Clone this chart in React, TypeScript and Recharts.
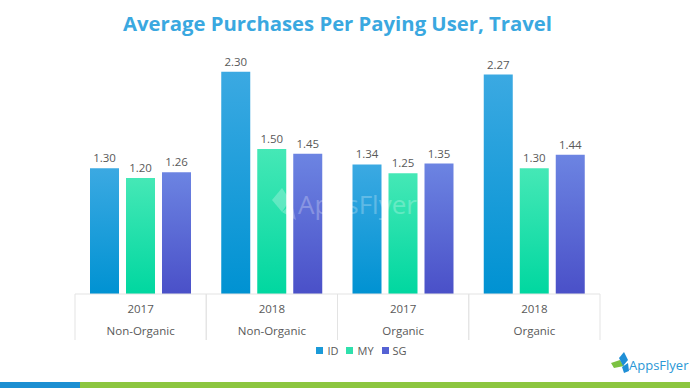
import React from 'react';
import { BarChart, Bar, XAxis, YAxis, Legend, LabelList } from 'recharts';

const years = ['2017', '2018', '2017', '2018'];
const types = ['Non-Organic', 'Non-Organic', 'Organic', 'Organic'];
const idValues = [1.3, 2.3, 1.34, 2.27];
const myValues = [1.2, 1.5, 1.25, 1.3];
const sgValues = [1.26, 1.45, 1.35, 1.44];

const data = years.map((y, i) => ({
  key: `${y}|${types[i]}`,
  year: y,
  type: types[i],
  ID: idValues[i],
  MY: myValues[i],
  SG: sgValues[i],
}));

const FONT = '"Open Sans", "Liberation Sans", sans-serif';

const CategoryTick = (props: any) => {
  const { x, y, payload } = props;
  const half = payload && payload.offset ? payload.offset : 65.6;
  const [yr, tp] = String(payload.value).split('|');
  return (
    <g>
      <line x1={x - half} x2={x - half} y1={y} y2={y + 46} stroke="#e3e3e3" strokeWidth={1} />
      <line x1={x + half} x2={x + half} y1={y} y2={y + 46} stroke="#e3e3e3" strokeWidth={1} />
      <text x={x} y={y + 19} textAnchor="middle" fontSize={11.5} fill="#595959" fontFamily={FONT}>{yr}</text>
      <text x={x} y={y + 41} textAnchor="middle" fontSize={11.5} fill="#595959" fontFamily={FONT}>{tp}</text>
    </g>
  );
};

const LegendContent = (props: any) => {
  const items = [
    { name: 'ID', color: '#1b9ad8' },
    { name: 'MY', color: '#2fe0ac' },
    { name: 'SG', color: '#5562d4' },
  ];
  return (
    <div style={{ display: 'flex', justifyContent: 'center', alignItems: 'center', fontFamily: FONT, fontSize: 11, color: '#595959', height: 20, marginLeft: 48 }}>
      {items.map((it) => (
        <div key={it.name} style={{ display: 'flex', alignItems: 'center', margin: '0 4px' }}>
          <span style={{ display: 'inline-block', width: 7, height: 7, background: it.color, marginRight: 4 }} />
          <span>{it.name}</span>
        </div>
      ))}
    </div>
  );
};

export default function App() {
  return (
    <div style={{ position: 'fixed', left: 0, top: 0, width: 690, height: 388, background: '#fff', overflow: 'hidden' }}>
      <div style={{ position: 'absolute', left: 0, top: 9, width: 675, textAlign: 'center', fontFamily: FONT, fontWeight: 700, fontSize: 20.3, color: '#3aa8e0' }}>
        Average Purchases Per Paying User, Travel
      </div>
      <div style={{ position: 'absolute', left: 0, top: 0 }}>
        <BarChart width={690} height={388} data={data} margin={{ top: 62, right: 90, bottom: 28, left: 75 }} barCategoryGap={15} barGap={7}>
          <defs>
            <linearGradient id="gID" x1="0" y1="0" x2="0" y2="1">
              <stop offset="0%" stopColor="#3ba9e2" />
              <stop offset="100%" stopColor="#0092d2" />
            </linearGradient>
            <linearGradient id="gMY" x1="0" y1="0" x2="0" y2="1">
              <stop offset="0%" stopColor="#45e8b6" />
              <stop offset="100%" stopColor="#00d7a0" />
            </linearGradient>
            <linearGradient id="gSG" x1="0" y1="0" x2="0" y2="1">
              <stop offset="0%" stopColor="#6c84e2" />
              <stop offset="100%" stopColor="#4a50c8" />
            </linearGradient>
          </defs>
          <YAxis hide domain={[0, 2.4]} />
          <XAxis dataKey="key" height={46} tickSize={0} tickMargin={0} tickLine={false} axisLine={{ stroke: '#e3e3e3' }} tick={<CategoryTick />} interval={0} />
          <Legend verticalAlign="bottom" height={20} content={<LegendContent />} />
          <Bar dataKey="ID" fill="url(#gID)" isAnimationActive={false}>
            <LabelList dataKey="ID" position="top" offset={6} formatter={(v: any) => Number(v).toFixed(2)} fill="#595959" fontSize={11.5} fontFamily={FONT} />
          </Bar>
          <Bar dataKey="MY" fill="url(#gMY)" isAnimationActive={false}>
            <LabelList dataKey="MY" position="top" offset={6} formatter={(v: any) => Number(v).toFixed(2)} fill="#595959" fontSize={11.5} fontFamily={FONT} />
          </Bar>
          <Bar dataKey="SG" fill="url(#gSG)" isAnimationActive={false}>
            <LabelList dataKey="SG" position="top" offset={6} formatter={(v: any) => Number(v).toFixed(2)} fill="#595959" fontSize={11.5} fontFamily={FONT} />
          </Bar>
        </BarChart>
      </div>
      <svg width={690} height={388} style={{ position: 'absolute', left: 0, top: 0, pointerEvents: 'none' }}>
        <g opacity={0.25}>
          <polygon points="272,200 282,188 290,200 282,212" fill="#ffffff" />
          <polygon points="282,212 292,204 296,220" fill="#ffffff" />
          <text x={298} y={214} fontSize={26} fontFamily={FONT} fill="#ffffff">AppsFlyer</text>
        </g>
        <polygon points="611,363 620,360 624,366 614,368" fill="#7cc242" />
        <polygon points="619,358 624,352 628,360 623,366" fill="#1f8fd6" />
        <polygon points="622,367 628,363 629,371 624,373" fill="#1f8fd6" />
        <text x={629} y={370} fontSize={13} fontFamily={FONT} fill="#2a97d6">AppsFlyer</text>
        <rect x={0} y={382} width={80} height={6} fill="#1b8fd2" />
        <rect x={80} y={382} width={610} height={6} fill="#8cc63f" />
      </svg>
    </div>
  );
}
